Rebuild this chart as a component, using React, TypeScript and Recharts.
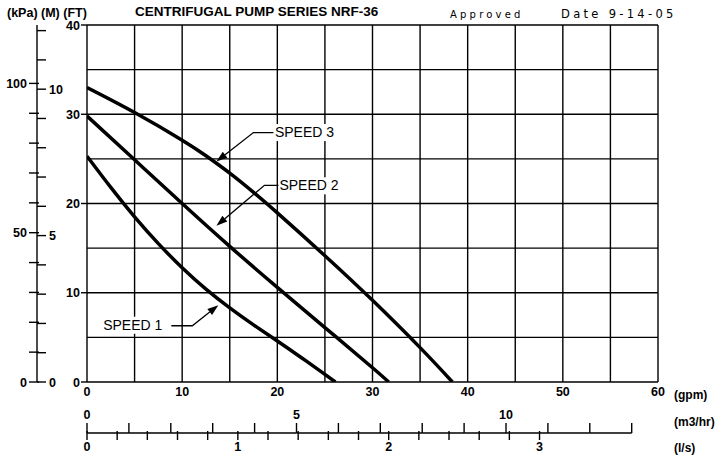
import React from "react"
import { LineChart, Line, XAxis, YAxis, CartesianGrid, ReferenceDot } from "recharts"

// pump curves, flow in gpm / head in ft
const SPEED1_FLOW = [0, 2.5, 5, 7.5, 10, 12.5, 15, 17.5, 20, 22.5, 25, 26.1]
const SPEED1_HEAD = [25.3, 21.8, 18.5, 15.5, 12.8, 10.4, 8.3, 6.4, 4.6, 2.75, 0.85, 0]
const SPEED2_FLOW = [0, 5, 10, 15, 20, 25, 30, 31.7]
const SPEED2_HEAD = [29.8, 24.9, 20.0, 15.2, 10.6, 6.1, 1.6, 0]
const SPEED3_FLOW = [0, 5, 10, 12.5, 15, 17.5, 20, 25, 30, 35, 38.4]
const SPEED3_HEAD = [33.0, 30.2, 27.1, 25.35, 23.4, 21.25, 18.95, 14.15, 9.15, 3.85, 0]

const GPM_TICKS = [0, 5, 10, 15, 20, 25, 30, 35, 40, 45, 50, 55, 60]
const FT_TICKS = [0, 5, 10, 15, 20, 25, 30, 35, 40]
const M_TICKS = [0, 1, 2, 3, 4, 5, 6, 7, 8, 9, 10, 11, 12]
const KPA_TICKS = [0, 10, 20, 30, 40, 50, 60, 70, 80, 90, 100]
const M3_TICKS = [0, 1, 2, 3, 4, 5, 6, 7, 8, 9, 10, 11, 12, 13]
const LS_TICKS = [0, 0.2, 0.4, 0.6, 0.8, 1, 1.2, 1.4, 1.6, 1.8, 2, 2.2, 2.4, 2.6, 2.8, 3]

const CALLOUT_NAMES = ["SPEED 1", "SPEED 2", "SPEED 3"]
const CALLOUT_FLOW = [13.8, 13.6, 13.6]
const CALLOUT_HEAD = [8.6, 17.5, 24.7]

const FT_PER_M = 3.28084
const KPA_PER_M = 9.80665
const GPM_PER_M3H = 4.40287
const GPM_PER_LS = 15.8503

const GPM_MAX = 60
const FT_MAX = 40
const M_MAX = FT_MAX / FT_PER_M
const KPA_MAX = M_MAX * KPA_PER_M
const M3_MAX = GPM_MAX / GPM_PER_M3H
const LS_MAX = GPM_MAX / GPM_PER_LS

const W = 716
const H = 458
const MARGIN = { top: 25, right: 58, bottom: 24, left: 36 }
const FT_AXIS_W = 49
const PLOT_W = W - 87 - MARGIN.right
const M3_STEP = (PLOT_W / GPM_MAX) * GPM_PER_M3H

const FONT = "'Liberation Sans', Arial, Helvetica, sans-serif"
const INK = "#000"

const toPoints = (xs: number[], ys: number[]) => xs.map((x, i) => ({ x, y: ys[i] }))
const speed1 = toPoints(SPEED1_FLOW, SPEED1_HEAD)
const speed2 = toPoints(SPEED2_FLOW, SPEED2_HEAD)
const speed3 = toPoints(SPEED3_FLOW, SPEED3_HEAD)
// rows for the axes that carry no series (flow scale only)
const axisRows = GPM_TICKS.map((x) => ({ x, m3: x / GPM_PER_M3H, ls: x / GPM_PER_LS }))

const labelProps = {
  fontFamily: FONT,
  fontWeight: 700,
  fontSize: 12.5,
  fill: INK,
}

const FtTick = ({ x, y, payload }: any) => {
  if (payload.value % 10 !== 0) return null
  return (
    <g>
      <line x1={x - 6} x2={x} y1={y} y2={y} stroke={INK} strokeWidth={1.4} />
      <text x={x - 7} y={y} dy="0.36em" textAnchor="end" {...labelProps}>
        {payload.value}
      </text>
    </g>
  )
}

const MeterTick = ({ x, y, payload }: any) => (
  <g>
    <line x1={x} x2={x + 9} y1={y} y2={y} stroke={INK} strokeWidth={1.4} />
    {payload.value % 5 === 0 && (
      <text x={x + 12} y={y} dy="0.36em" textAnchor="start" {...labelProps}>
        {payload.value}
      </text>
    )}
  </g>
)

// kPa axis box sits 1px left of the metre axis line
const KpaTick = ({ x, y, payload }: any) => (
  <g>
    <line x1={x - 9} x2={x + 1} y1={y} y2={y} stroke={INK} strokeWidth={1.4} />
    {payload.value % 50 === 0 && (
      <text x={x - 11} y={y} dy="0.36em" textAnchor="end" {...labelProps}>
        {payload.value}
      </text>
    )}
  </g>
)

const GpmTick = ({ x, y, payload }: any) => {
  if (payload.value % 10 !== 0) return null
  return (
    <text x={x} y={y + 14} textAnchor="middle" {...labelProps}>
      {payload.value}
    </text>
  )
}

const M3Tick = ({ x, y, payload }: any) => (
  <g>
    {payload.value > 0 && (
      <line x1={x - M3_STEP} x2={x} y1={y} y2={y} stroke={INK} strokeWidth={1.4} />
    )}
    <line x1={x} x2={x} y1={y - 10} y2={y} stroke={INK} strokeWidth={1.4} />
    {payload.value % 5 === 0 && (
      <text x={x} y={y - 14} textAnchor="middle" {...labelProps}>
        {payload.value}
      </text>
    )}
  </g>
)

const LsTick = ({ x, y, payload }: any) => {
  const whole = Math.abs(payload.value - Math.round(payload.value)) < 1e-6
  return (
    <g>
      <line x1={x} x2={x} y1={y - 1} y2={y + 8} stroke={INK} strokeWidth={1.4} />
      {whole && (
        <text x={x} y={y + 19} textAnchor="middle" {...labelProps}>
          {Math.round(payload.value)}
        </text>
      )}
    </g>
  )
}

// leader geometry relative to the arrow tip
const CALLOUT_GEOM = [
  { knee: [-26, 20.5], end: [-47, 20.5], text: [-56, 24.5], anchor: "end" },
  { knee: [48, -40.5], end: [62, -40.5], text: [63, -35.5], anchor: "start" },
  { knee: [37, -29], end: [57, -29], text: [58.5, -24.5], anchor: "start" },
]

const Callout = ({ cx, cy, index }: { cx: number; cy: number; index: number }) => {
  if (cx == null || cy == null) return null
  const g = CALLOUT_GEOM[index]
  const [kx, ky] = g.knee
  const len = Math.hypot(kx, ky)
  const ux = -kx / len
  const uy = -ky / len
  const bx = cx - ux * 11
  const by = cy - uy * 11
  const px = -uy * 3.8
  const py = ux * 3.8
  const tx = cx + g.text[0]
  const ty = cy + g.text[1]
  const textW = 60
  return (
    <g>
      <rect
        x={g.anchor === "end" ? tx - textW - 1 : tx - 1}
        y={ty - 13}
        width={textW + 2}
        height={17}
        fill="#fff"
      />
      <text
        x={tx}
        y={ty}
        textAnchor={g.anchor as any}
        fontFamily={FONT}
        fontSize={14}
        fill={INK}
      >
        {CALLOUT_NAMES[index]}
      </text>
      <polyline
        points={`${cx + g.end[0]},${cy + g.end[1]} ${cx + kx},${cy + ky} ${bx},${by}`}
        fill="none"
        stroke={INK}
        strokeWidth={1.3}
      />
      <polygon
        points={`${cx},${cy} ${bx + px},${by + py} ${bx - px},${by - py}`}
        fill={INK}
      />
    </g>
  )
}

const overlay = (left: number, top: number, extra: React.CSSProperties = {}) => ({
  position: "absolute" as const,
  left,
  top,
  lineHeight: "14px",
  whiteSpace: "nowrap" as const,
  fontFamily: FONT,
  fontWeight: 700,
  fontSize: 12.5,
  color: INK,
  ...extra,
})

const cadFont: React.CSSProperties = {
  fontFamily: "'DejaVu Sans', sans-serif",
  fontWeight: 400,
}

const axisCommon = {
  type: "number" as const,
  interval: 0 as const,
  allowDataOverflow: true,
  tickLine: false,
  tickSize: 0,
  tickMargin: 0,
}

export default function App() {
  return (
    <div style={{ position: "absolute", left: 0, top: 0, width: W, height: H, background: "#fff" }}>
      <LineChart width={W} height={H} margin={MARGIN} data={axisRows}>
        <CartesianGrid stroke={INK} strokeWidth={1.4} strokeOpacity={1} />
        <XAxis
          {...axisCommon}
          dataKey="x"
          domain={[0, GPM_MAX]}
          ticks={GPM_TICKS}
          height={50}
          axisLine={false}
          tick={<GpmTick />}
        />
        <XAxis
          {...axisCommon}
          xAxisId="m3"
          dataKey="m3"
          domain={[0, M3_MAX]}
          ticks={M3_TICKS}
          height={1}
          axisLine={false}
          tick={<M3Tick />}
        />
        <XAxis
          {...axisCommon}
          xAxisId="ls"
          dataKey="ls"
          domain={[0, LS_MAX]}
          ticks={LS_TICKS}
          height={1}
          axisLine={false}
          tick={<LsTick />}
        />
        <YAxis
          {...axisCommon}
          domain={[0, FT_MAX]}
          ticks={FT_TICKS}
          width={FT_AXIS_W}
          axisLine={false}
          tick={<FtTick />}
        />
        <YAxis
          {...axisCommon}
          yAxisId="m"
          domain={[0, M_MAX]}
          ticks={M_TICKS}
          width={1}
          axisLine={{ stroke: INK, strokeWidth: 1.4 }}
          tick={<MeterTick />}
        />
        <YAxis
          {...axisCommon}
          yAxisId="kpa"
          domain={[0, KPA_MAX]}
          ticks={KPA_TICKS}
          width={1}
          axisLine={false}
          tick={<KpaTick />}
        />
        <Line data={speed1} dataKey="y" type="natural" stroke={INK} strokeWidth={3.5} dot={false} isAnimationActive={false} />
        <Line data={speed2} dataKey="y" type="natural" stroke={INK} strokeWidth={3.5} dot={false} isAnimationActive={false} />
        <Line data={speed3} dataKey="y" type="natural" stroke={INK} strokeWidth={3.5} dot={false} isAnimationActive={false} />
        {CALLOUT_NAMES.map((name, i) => (
          <ReferenceDot
            key={name}
            x={CALLOUT_FLOW[i]}
            y={CALLOUT_HEAD[i]}
            r={0}
            ifOverflow="visible"
            shape={(p: any) => <Callout cx={p.cx} cy={p.cy} index={i} />}
          />
        ))}
      </LineChart>

      <span style={overlay(7, 6)}>(kPa) (M) (FT)</span>
      <span style={overlay(135, 5, { fontSize: 13.5 })}>CENTRIFUGAL PUMP SERIES NRF-36</span>
      <span style={overlay(450, 8, { ...cadFont, fontSize: 10, letterSpacing: 3.2 })}>Approved</span>
      <span style={overlay(561, 7, { ...cadFont, fontSize: 11.5, letterSpacing: 3.3 })}>Date 9-14-05</span>
      <span style={overlay(674, 388, { fontSize: 12 })}>(gpm)</span>
      <span style={overlay(674, 415, { fontSize: 12 })}>(m3/hr)</span>
      <span style={overlay(674, 441, { fontSize: 12 })}>(l/s)</span>
    </div>
  )
}
